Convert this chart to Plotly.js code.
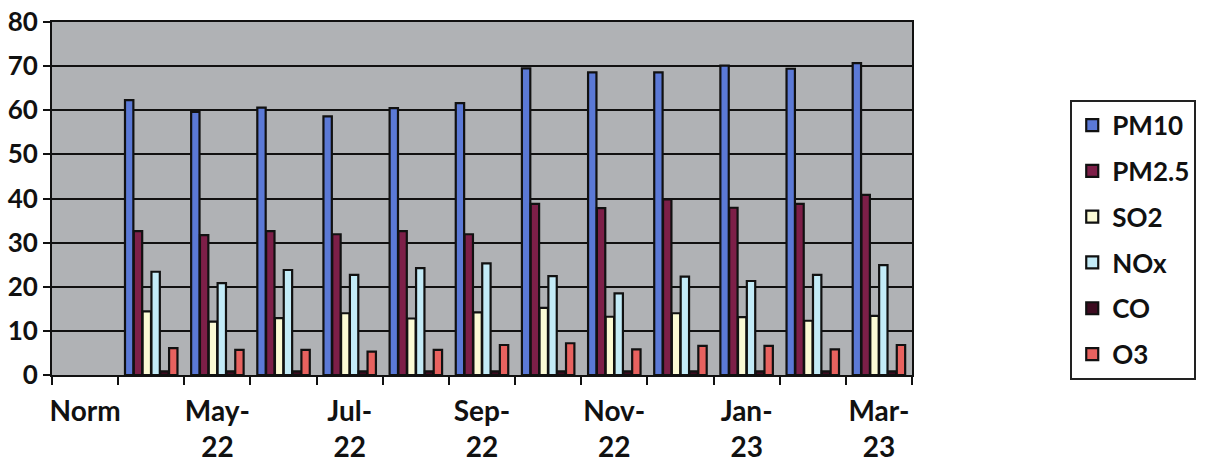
<!DOCTYPE html>
<html>
<head>
<meta charset="utf-8">
<script src="https://cdn.plot.ly/plotly-3.0.1.min.js"></script>
<style>html,body{margin:0;padding:0;background:#fff;}#chart{width:1210px;height:464px;}</style>
</head>
<body>
<div id="chart"></div>
<script>
const categories = ["Norm","Apr-22","May-22","Jun-22","Jul-22","Aug-22","Sep-22","Oct-22","Nov-22","Dec-22","Jan-23","Feb-23","Mar-23"];
const tickLabels = ["Norm","","May-<br>22","","Jul-<br>22","","Sep-<br>22","","Nov-<br>22","","Jan-<br>23","","Mar-<br>23"];
const pm10 = [null, 62.3, 59.6, 60.6, 58.6, 60.5, 61.6, 69.5, 68.6, 68.6, 70.1, 69.4, 70.7];
const pm25 = [null, 32.6, 31.7, 32.6, 31.9, 32.6, 31.9, 38.8, 37.8, 39.8, 37.9, 38.8, 40.8];
const so2  = [null, 14.4, 12.1, 12.9, 14.0, 12.8, 14.2, 15.2, 13.2, 14.0, 13.1, 12.3, 13.4];
const nox  = [null, 23.4, 20.8, 23.8, 22.7, 24.2, 25.3, 22.4, 18.5, 22.3, 21.3, 22.7, 24.9];
const co   = [null, 0.8, 0.8, 0.8, 0.8, 0.8, 0.8, 0.8, 0.8, 0.8, 0.8, 0.8, 0.8];
const o3   = [null, 6.1, 5.7, 5.7, 5.3, 5.7, 6.8, 7.2, 5.8, 6.6, 6.6, 5.8, 6.8];

const seriesNames = ["PM10","PM2.5","SO2","NOx","CO","O3"];
const seriesValues = [pm10, pm25, so2, nox, co, o3];
const seriesColors = ["#5b79d6","#7d1f48","#fbfad4","#c3ebf7","#3d0b20","#e8625f"];

const traces = seriesNames.map((name, i) => ({
  type: "bar",
  name: name,
  x: categories,
  y: seriesValues[i],
  legendgroup: "g" + i,
  marker: {color: seriesColors[i], line: {color: "#111", width: 2.2}},
  hoverinfo: "x+y+name"
}));

const font = {family: "Lato, 'Open Sans', sans-serif", color: "#111", weight: "bold"};

const layout = {
  width: 1210, height: 464,
  margin: {l: 52, r: 298, t: 22, b: 89, pad: 0},
  paper_bgcolor: "#ffffff",
  plot_bgcolor: "#b0b2b5",
  barmode: "group",
  bargap: 0.2,
  bargroupgap: 0.05,
  font: font,
  showlegend: true,
  legend: {
    x: 1.184, xanchor: "left",
    y: 0.78, yanchor: "top",
    bordercolor: "#222", borderwidth: 2, bgcolor: "#ffffff",
    font: {family: font.family, size: 26, color: "#111", weight: "bold"},
    traceorder: "grouped",
    tracegroupgap: 9,
    itemwidth: 30
  },
  xaxis: {
    type: "category",
    tickmode: "array",
    tickvals: categories,
    ticktext: tickLabels,
    tickson: "boundaries",
    ticks: "outside", ticklen: 8, tickwidth: 2, tickcolor: "#111",
    showline: true, linecolor: "#111", linewidth: 2, mirror: true,
    showgrid: false,
    tickfont: {family: font.family, size: 28, color: "#111", weight: "bold"},
    ticklabelstandoff: 10,
    tickangle: 0,
    automargin: false
  },
  yaxis: {
    range: [0, 80], dtick: 10,
    ticks: "outside", ticklen: 7, tickwidth: 2, tickcolor: "#111",
    showline: true, linecolor: "#111", linewidth: 2, mirror: true,
    showgrid: true, gridcolor: "#111", gridwidth: 2,
    zeroline: false,
    tickfont: {family: font.family, size: 26, color: "#111", weight: "bold"},
    automargin: false
  }
};

Plotly.newPlot("chart", traces, layout, {displayModeBar: false, staticPlot: true});
</script>
</body>
</html>
